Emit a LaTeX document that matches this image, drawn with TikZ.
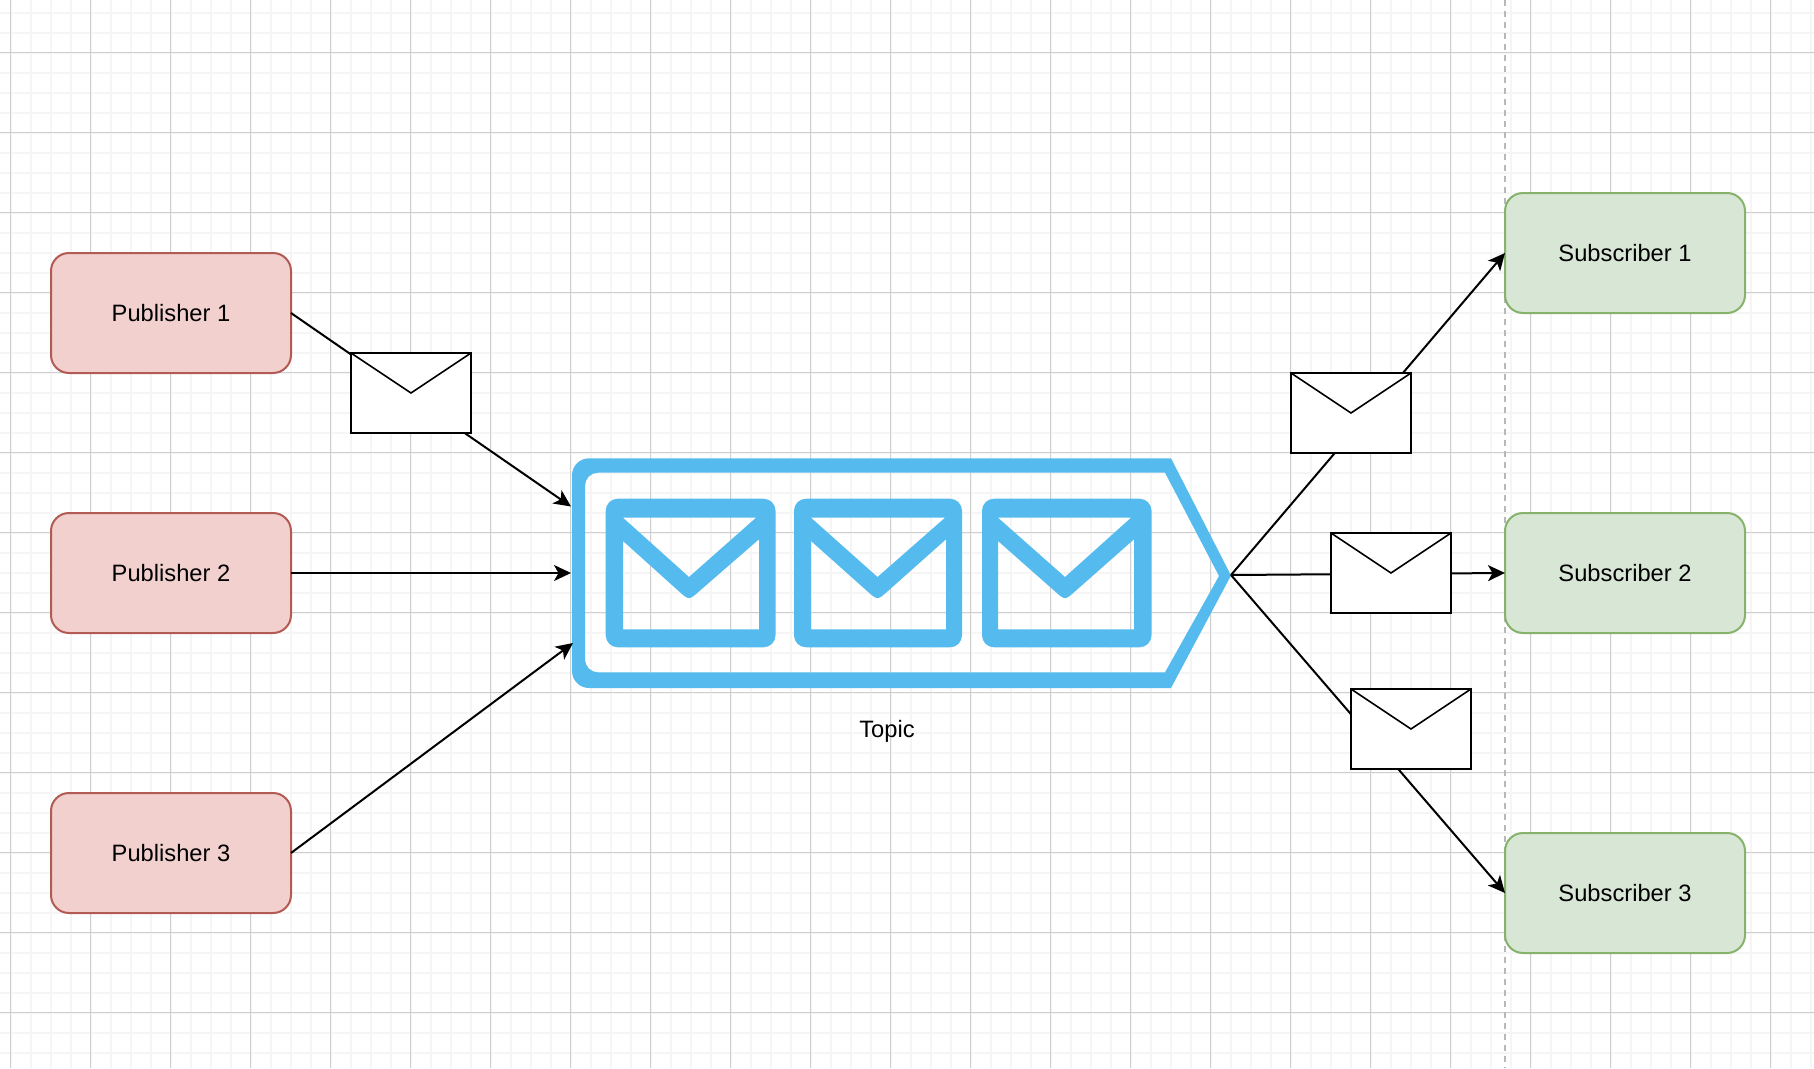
\documentclass[tikz,border=0pt]{standalone}
\usepackage{fontspec}
\setmainfont{Liberation Sans}
\usepackage{xcolor}
\usetikzlibrary{arrows.meta}
\definecolor{topicblue}{HTML}{55BBEE}
\definecolor{pubfill}{HTML}{F2D0CE}
\definecolor{publine}{HTML}{B25B55}
\definecolor{subfill}{HTML}{D8E6D5}
\definecolor{subline}{HTML}{86B26C}
\tikzset{
  nodebox/.style={draw, rounded corners=18pt, minimum width=240pt, minimum height=120pt, inner sep=0pt, outer sep=0pt, line width=2pt, font=\fontsize{23.7}{28}\selectfont},
  pubbox/.style={nodebox, fill=pubfill, draw=publine},
  subbox/.style={nodebox, fill=subfill, draw=subline},
  envbox/.style={draw=black, fill=white, line width=2pt, minimum width=120pt, minimum height=80pt, inner sep=0pt, outer sep=0pt,
    path picture={\draw[line width=1.6pt] (path picture bounding box.north west) -- (path picture bounding box.center) -- (path picture bounding box.north east);}},
  arc/.style={-{Stealth[length=17pt, width=16pt, inset=4.5pt]}, line width=2pt, black},
  minorline/.style={draw=black!4, line width=2pt},
  majorline/.style={draw=black!19, line width=1.1pt},
  guideline/.style={draw=black!28, line width=2pt, dash pattern=on 6pt off 5pt}
}

\begin{document}
\begin{tikzpicture}[x=1pt, y=-1pt]
  \useasboundingbox (0,0) rectangle (1814,1068);
  \fill[white] (0,0) rectangle (1814,1068);

  \foreach \gx in {10.5,30.5,...,1810.5} \draw[minorline] (\gx,0) -- (\gx,1068);
  \foreach \gy in {12.5,32.5,...,1052.5} \draw[minorline] (0,\gy) -- (1814,\gy);
  \foreach \gx in {10.5,90.5,...,1810.5} \draw[majorline] (\gx,0) -- (\gx,1068);
  \foreach \gy in {52.5,132.5,...,1012.5} \draw[majorline] (0,\gy) -- (1814,\gy);
  \coordinate (guidetop) at (1505,0);
  \coordinate (guidebot) at (1505,1068);
  \draw[guideline] (guidetop) -- (guidebot);

  \fill[topicblue, even odd rule]
    (1171,458.3) [rounded corners=17pt] -- (572,458.3) -- (572,688) -- (800,688) [sharp corners] -- (1171,688) -- (1231,575.5) -- cycle
    (1165,472.7) -- (1219,576) -- (1165,672.3) -- (800,672.3) [rounded corners=13pt] -- (585,672.3) -- (585,472.7) -- (800,472.7) [sharp corners] -- cycle;
  \foreach \outl/\outr/\innl/\innr/\apx/\triright in {605.7/775.5/623/759/689/756, 794/962/811/946/877.5/945, 982/1151.5/998/1134/1065/1131} {
    \fill[topicblue, even odd rule]
      [rounded corners=12pt] (\outl,498.7) rectangle (\outr,647.3)
      [sharp corners] (\innl,517.7) -- (\triright,517.7) -- (\apx,577) -- cycle
      (\innl,541) -- ({\apx-10},591.4) .. controls (\apx,600.3) .. ({\apx+10},591.4) -- (\innr,539.3) -- (\innr,629.3) -- (\innl,629.3) -- cycle;
  }
  \node[font=\fontsize{23.7}{28}\selectfont] (topiclabel) at (887,731) {Topic};

  \node[pubbox] (pubone) at (171,313) {Publisher 1};
  \node[pubbox] (pubtwo) at (171,573) {Publisher 2};
  \node[pubbox] (pubthree) at (171,853) {Publisher 3};
  \node[subbox] (subone) at (1625,253) {Subscriber 1};
  \node[subbox] (subtwo) at (1625,573) {Subscriber 2};
  \node[subbox] (subthree) at (1625,893) {Subscriber 3};

  \coordinate (topicinone) at (571,506.5);
  \coordinate (topicintwo) at (571,573);
  \coordinate (topicinthree) at (573,643);
  \coordinate (topictip) at (1231,575);
  \draw[arc] (pubone.east) -- (topicinone);
  \draw[arc] (pubtwo.east) -- (topicintwo);
  \draw[arc] (pubthree.east) -- (topicinthree);
  \draw[arc] (topictip) -- (subone.west);
  \draw[arc] (topictip) -- (subtwo.west);
  \draw[arc] (topictip) -- (subthree.west);

  \node[envbox] (envpub) at (411,393) {};
  \node[envbox] (envsubone) at (1351,413) {};
  \node[envbox] (envsubtwo) at (1391,573) {};
  \node[envbox] (envsubthree) at (1411,729) {};
\end{tikzpicture}
\end{document}
